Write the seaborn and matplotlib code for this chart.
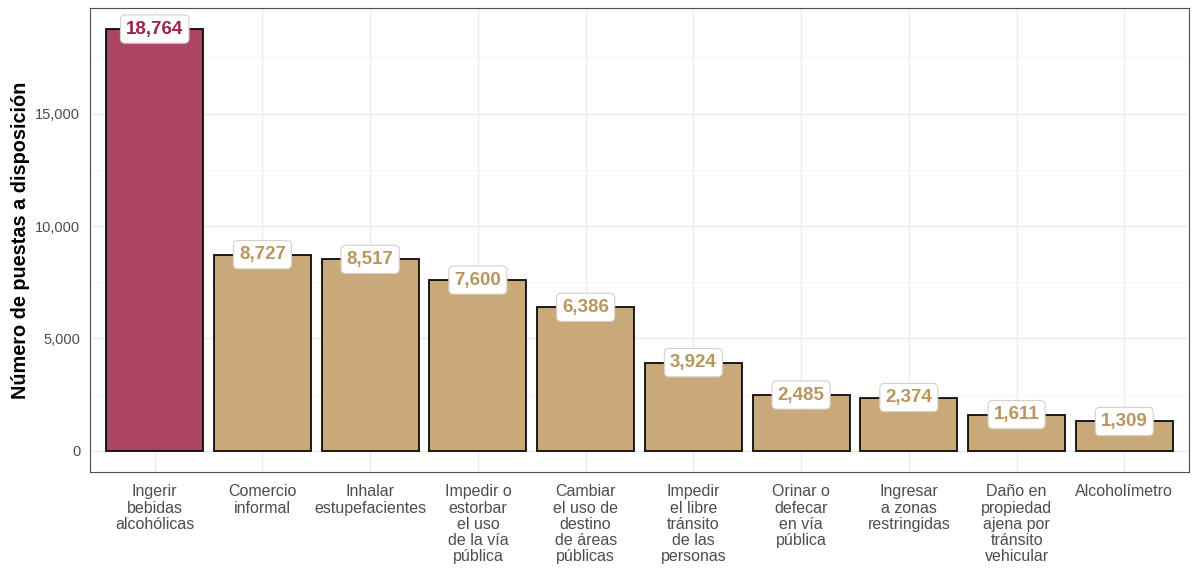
import pandas as pd
import seaborn as sns
import matplotlib.pyplot as plt
from matplotlib.ticker import FuncFormatter, MultipleLocator

# Data
categorias = [
    'Ingerir\nbebidas\nalcohólicas',
    'Comercio\ninformal',
    'Inhalar\nestupefacientes',
    'Impedir o\nestorbar\nel uso\nde la vía\npública',
    'Cambiar\nel uso de\ndestino\nde áreas\npúblicas',
    'Impedir\nel libre\ntránsito\nde las\npersonas',
    'Orinar o\ndefecar\nen vía\npública',
    'Ingresar\na zonas\nrestringidas',
    'Daño en\npropiedad\najena por\ntránsito\nvehicular',
    'Alcoholímetro',
]
puestas = [18764, 8727, 8517, 7600, 6386, 3924, 2485, 2374, 1611, 1309]

rojo = '#A83A5C'
arena = '#C6A572'
colores = [rojo] + [arena] * (len(categorias) - 1)
colores_txt = ['#9B2548'] + ['#B8975F'] * (len(categorias) - 1)

df = pd.DataFrame({'categoria': categorias, 'puestas': puestas})

sns.set_style('white')
plt.rcParams['font.family'] = ['Liberation Sans', 'DejaVu Sans']

fig, ax = plt.subplots(figsize=(11.93, 5.69), dpi=100)
fig.subplots_adjust(left=0.0755, right=0.9966, bottom=0.1705, top=0.986)

sns.barplot(data=df, x='categoria', y='puestas', hue='categoria',
            palette=colores, legend=False, width=0.9, alpha=0.95,
            edgecolor='black', linewidth=1.3, saturation=1, ax=ax, zorder=3)

# value labels centred on bar tops
for i, (v, c) in enumerate(zip(puestas, colores_txt)):
    ax.text(i, v, f'{v:,}', ha='center', va='center', fontsize=13.5,
            fontweight='bold', color=c, zorder=5,
            bbox=dict(boxstyle='round,pad=0.3,rounding_size=0.25',
                      facecolor='white', edgecolor='#D8D0C4', linewidth=0.8))

ax.set_xlim(-0.6, len(categorias) - 0.4)
ax.set_ylim(-938, 19702)
ax.yaxis.set_major_locator(MultipleLocator(5000))
ax.yaxis.set_minor_locator(MultipleLocator(2500))
ax.yaxis.set_major_formatter(FuncFormatter(lambda v, p: f'{int(v):,}'))

ax.grid(which='major', color='#EBEBEB', linewidth=1.0, zorder=0)
ax.grid(which='minor', axis='y', color='#F3F3F3', linewidth=0.6, zorder=0)
ax.set_axisbelow(True)

for s in ax.spines.values():
    s.set_color('#4D4D4D')
    s.set_linewidth(0.8)

ax.tick_params(axis='both', which='major', length=4, width=0.8, color='#333333',
               labelcolor='#4D4D4D', pad=3)
ax.tick_params(axis='x', labelsize=11.5, pad=5)
ax.tick_params(axis='y', labelsize=10.5)
ax.tick_params(axis='y', which='minor', length=0)
for lab in ax.get_xticklabels():
    lab.set_linespacing(1.1)
ax.set_xlabel('')
ax.set_ylabel('Número de puestas a disposición', fontsize=14.3,
              fontweight='bold', color='black', labelpad=4)

plt.savefig('out.png', dpi=100)
